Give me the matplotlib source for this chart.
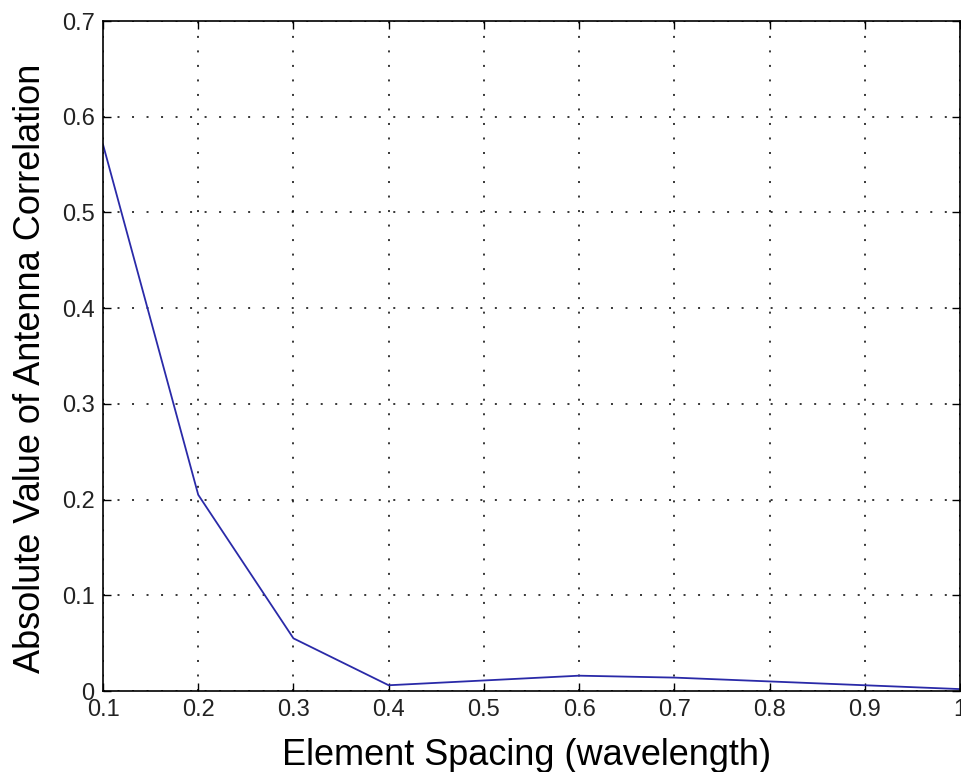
import numpy as np
import matplotlib
matplotlib.use("Agg")
import matplotlib.pyplot as plt

# element spacing in wavelengths and |correlation| at each spacing
spacing = [0.1, 0.2, 0.3, 0.4, 0.5, 0.6, 0.7, 0.8, 0.9, 1.0]
correlation = [0.571, 0.205, 0.055, 0.006, 0.011, 0.016, 0.014, 0.010, 0.006, 0.002]

x_ticks = [0.1, 0.2, 0.3, 0.4, 0.5, 0.6, 0.7, 0.8, 0.9, 1.0]
x_ticklabels = ["0.1", "0.2", "0.3", "0.4", "0.5", "0.6", "0.7", "0.8", "0.9", "1"]
y_ticks = [0, 0.1, 0.2, 0.3, 0.4, 0.5, 0.6, 0.7]
y_ticklabels = ["0", "0.1", "0.2", "0.3", "0.4", "0.5", "0.6", "0.7"]

plt.rcParams["font.family"] = ["Liberation Sans", "DejaVu Sans"]

fig = plt.figure(figsize=(9.62, 7.72), dpi=100)
ax = fig.add_axes([103 / 962, 1 - 691 / 772, (960 - 103) / 962, (691 - 21) / 772])

ax.plot(spacing, correlation, color="#2a2aa8", linewidth=1.3)

ax.set_xlim(0.1, 1.0)
ax.set_ylim(0, 0.7)
ax.set_xticks(x_ticks)
ax.set_xticklabels(x_ticklabels)
ax.set_yticks(y_ticks)
ax.set_yticklabels(y_ticklabels)

# sparse dotted grid
ax.grid(True, linestyle=(0, (1.3, 8.2)), color="black", linewidth=1.1)
ax.tick_params(direction="in", length=6, width=1, top=True, right=True,
               labelsize=17, labelcolor="#222222", pad=6)
for s in ax.spines.values():
    s.set_linewidth(1.2)

ax.set_xlabel("Element Spacing (wavelength)", fontsize=26)
ax.set_ylabel("Absolute Value of Antenna Correlation", fontsize=26)
ax.xaxis.set_label_coords(0.494, -0.070)
ax.yaxis.set_label_coords(-0.0645, 0.481)

fig.savefig("out.png", dpi=100)
